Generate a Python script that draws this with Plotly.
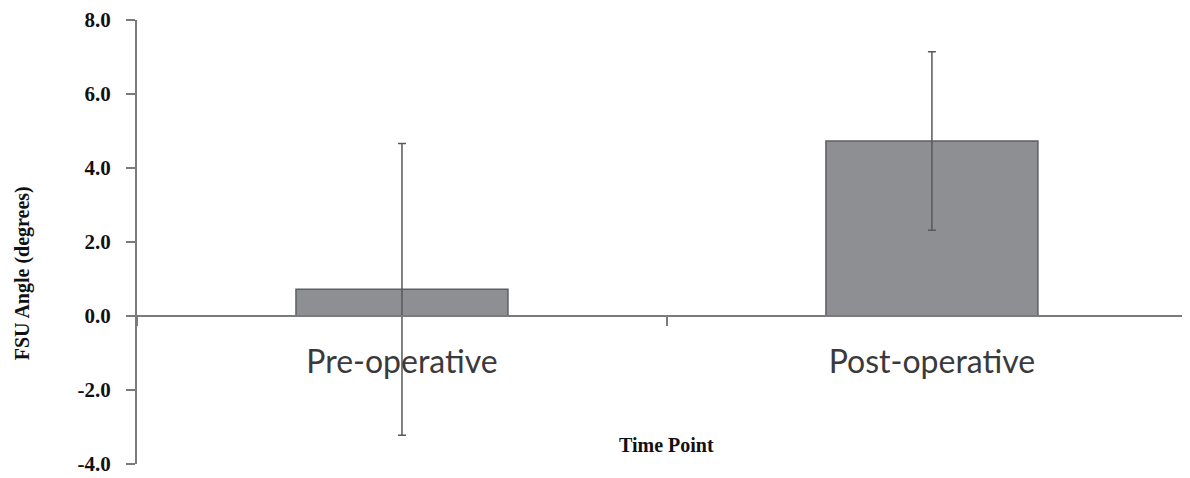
import plotly.graph_objects as go

categories = ["Pre-operative", "Post-operative"]
mean_angle = [0.72, 4.73]
sd_angle = [3.94, 2.41]
y_tick_values = [-4, -2, 0, 2, 4, 6, 8]
y_tick_labels = ["-4.0", "-2.0", "0.0", "2.0", "4.0", "6.0", "8.0"]

serif = "Liberation Serif"
axis_color = "#7b7b7d"

fig = go.Figure()
fig.add_trace(go.Bar(
    x=categories,
    y=mean_angle,
    width=0.4,
    marker=dict(color="#8e8f93", line=dict(color="#5e5f63", width=1.5)),
    error_y=dict(type="data", array=sd_angle, visible=True,
                 color="#58595c", thickness=1.5, width=4),
    showlegend=False,
))

# page body has an 8px margin: compensate so the plot area sits where the reference has it
fig.update_layout(
    width=1182, height=470,
    margin=dict(l=129, r=0, t=12, b=14),
    paper_bgcolor="white", plot_bgcolor="white",
    xaxis=dict(
        type="category",
        range=[-0.5, 1.487],
        anchor="free", position=1/3,
        showline=True, linecolor=axis_color, linewidth=2,
        ticks="outside", tickson="boundaries", ticklen=9, tickwidth=1.5,
        tickcolor=axis_color,
        tickfont=dict(family="Lato", size=32, color="#3a3a3c"),
        ticklabelstandoff=18,
        showgrid=False, zeroline=False,
    ),
    yaxis=dict(
        range=[-4, 8],
        tickvals=y_tick_values,
        ticktext=["<b>%s</b>" % t for t in y_tick_labels],
        showline=True, linecolor=axis_color, linewidth=2,
        ticks="outside", ticklen=9, tickwidth=1.5, tickcolor=axis_color,
        tickfont=dict(family=serif, size=21, color="#111111"),
        ticklabelstandoff=11,
        showgrid=False, zeroline=False,
    ),
    annotations=[
        dict(text="<b>Time Point</b>", xref="paper", yref="paper",
             x=0.503, y=0.043, xanchor="center", yanchor="middle",
             showarrow=False, font=dict(family=serif, size=20, color="#111111")),
        dict(text="<b>FSU Angle (degrees)</b>", xref="paper", yref="paper",
             x=-0.109, y=0.43, xanchor="center", yanchor="middle", textangle=-90,
             showarrow=False, font=dict(family=serif, size=20, color="#111111")),
    ],
)

fig.write_html("out.html")
